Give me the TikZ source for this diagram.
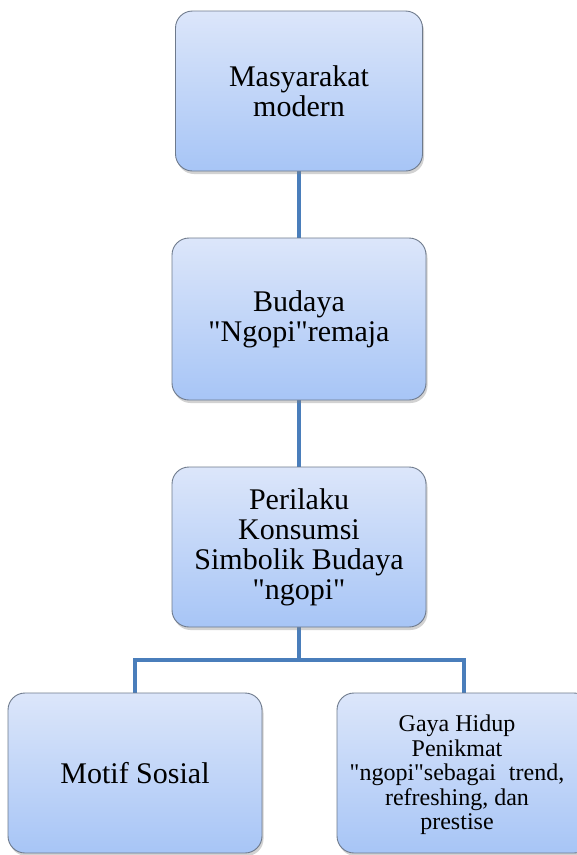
\documentclass[tikz,border=0pt]{standalone}
\usepackage{fontspec}
\setmainfont{Liberation Serif}[Ligatures=TeXOff]
\usetikzlibrary{shadows,backgrounds}
\definecolor{boxtop}{RGB}{220,230,250}
\definecolor{boxbot}{RGB}{167,197,246}
\definecolor{boxline}{RGB}{110,122,140}
\definecolor{connblue}{RGB}{74,126,187}
\tikzset{
  box/.style={rectangle, rounded corners=17pt, draw=boxline, line width=0.9pt,
    top color=boxtop, bottom color=boxbot, align=center,
    minimum width=254pt, minimum height=160pt, inner sep=0pt,
    drop shadow={opacity=0.35, shadow xshift=1.5pt, shadow yshift=-3pt},
    font=\fontsize{30pt}{30pt}\selectfont},
  conn/.style={draw=connblue, line width=4pt},
  smalltext/.style={align=center, font=\fontsize{24pt}{24.5pt}\selectfont}
}
\begin{document}
\begin{tikzpicture}[x=1pt,y=-1pt]
\useasboundingbox (0,0) rectangle (577,855);
\clip (0,0) rectangle (577,855);
\node[box, minimum width=247pt] (b1) at (299,91) {Masyarakat\\modern};
\node[box, minimum height=162pt] (b2) at (299,319) {Budaya\\"Ngopi"remaja};
\node[box] (b3) at (299,547) {Perilaku\\Konsumsi\\Simbolik Budaya\\"ngopi"};
\node[box] (b4) at (135,773) {Motif Sosial};
\node[box] (b5) at (464,773) {};
\node[smalltext] (t5) at (457,775) {Gaya Hidup\\Penikmat\\"ngopi"sebagai\hspace{13pt}trend,\\refreshing, dan\\prestise};
\coordinate (hub) at (299,660);
\begin{scope}[on background layer]
  \fill[white] (0,0) rectangle (577,855);
  \draw[conn] (b1.south) -- (b2.north);
  \draw[conn] (b2.south) -- (b3.north);
  \draw[conn] (b3.south) -- (hub);
  \draw[conn] (b4.north) |- (hub) -| (b5.north);
\end{scope}
\end{tikzpicture}
\end{document}
